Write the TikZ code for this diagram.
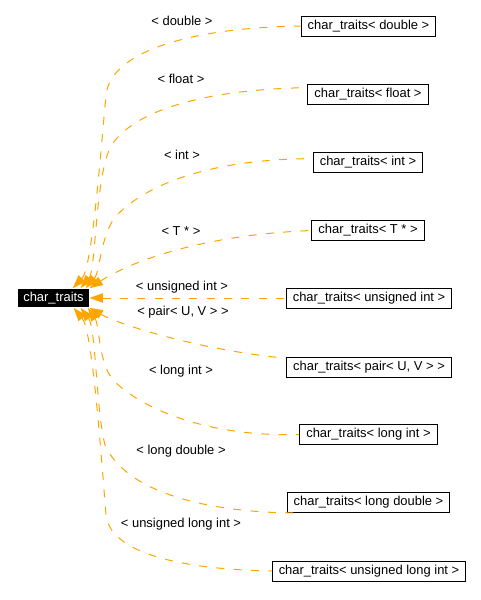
\documentclass[tikz,border=0pt]{standalone}
\usepackage{fontspec}
\setmainfont{Liberation Sans}
\usetikzlibrary{arrows.meta}
\definecolor{edgeorange}{HTML}{FFA500}
\begin{document}
\begin{tikzpicture}[x=.75pt,y=-.75pt,>={Triangle[length=10pt,width=7pt]},line width=.75pt,
  font=\fontsize{9.7}{11.6}\selectfont,
  cls/.style={draw=black,inner xsep=5pt,inner ysep=0pt,minimum height=15pt},
  edge/.style={edgeorange,dash pattern=on 6pt off 7pt},
  lbl/.style={inner sep=1pt}]
  \useasboundingbox (0,0) rectangle (481,600);
  \node[fill=black,text=white,inner xsep=4pt,inner ysep=0pt,minimum height=14pt] (ct) at (53.5,298) {char\_traits};
  \node[cls] (db) at (368.5,26) {char\_traits< double >};
  \node[cls] (fl) at (368,94) {char\_traits< float >};
  \node[cls] (in) at (368,162.5) {char\_traits< int >};
  \node[cls] (tp) at (368,230.5) {char\_traits< T * >};
  \node[cls] (ui) at (369,298) {char\_traits< unsigned int >};
  \node[cls] (pa) at (369,367) {char\_traits< pair< U, V > >};
  \node[cls] (li) at (368.5,434.5) {char\_traits< long int >};
  \node[cls] (ld) at (368.5,502.5) {char\_traits< long double >};
  \node[cls] (ul) at (369,571) {char\_traits< unsigned long int >};
  \draw[edge,<-] (ct.27) .. controls (92,268) and (100,160) .. (106,95) .. controls (110,55) and (180,28) .. (db.west);
  \draw[edge,<-] (ct.20) .. controls (96,270) and (95,180) .. (110,148) .. controls (125,120) and (180,90) .. (fl.174);
  \draw[edge,<-] (ct.17) .. controls (100,272) and (100,238) .. (115,217) .. controls (150,180) and (220,159) .. (in.176);
  \draw[edge,<-] (ct.north east) .. controls (130,262) and (200,235) .. (tp.west);
  \draw[edge,<-] (ct.east) -- (ui.west);
  \draw[edge,<-] (ct.south east) .. controls (120,325) and (200,350) .. (pa.174);
  \draw[edge,<-] (ct.-16) .. controls (100,326) and (98,365) .. (115,382) .. controls (150,415) and (220,437) .. (li.west);
  \draw[edge,<-] (ct.-20) .. controls (96,328) and (96,410) .. (105,445) .. controls (125,490) and (200,512) .. (ld.188);
  \draw[edge,<-] (ct.-26) .. controls (92,330) and (100,440) .. (106,515) .. controls (110,550) and (170,569) .. (ul.west);
  \node[lbl] (l1) at (182,21) {< double >};
  \node[lbl] (l2) at (181,79) {< float >};
  \node[lbl] (l3) at (182,155) {< int >};
  \node[lbl] (l4) at (181,231) {< T * >};
  \node[lbl] (l5) at (182,287) {< unsigned int >};
  \node[lbl] (l6) at (183,312) {< pair< U, V > >};
  \node[lbl] (l7) at (181,371) {< long int >};
  \node[lbl] (l8) at (181,451) {< long double >};
  \node[lbl] (l9) at (181,524) {< unsigned long int >};
\end{tikzpicture}
\end{document}
